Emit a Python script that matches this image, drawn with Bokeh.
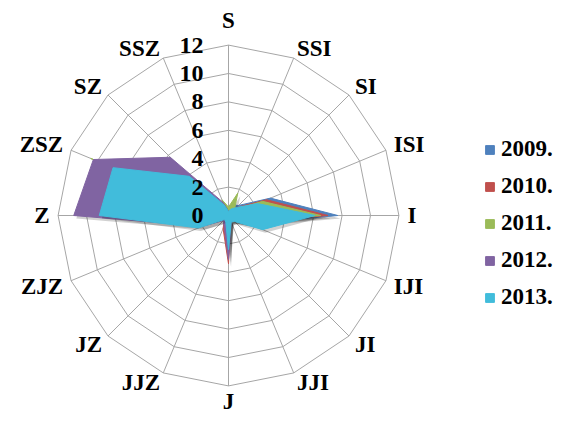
import numpy as np
from bokeh.plotting import figure
from bokeh.models import Legend, LegendItem, Range1d
from bokeh.core.properties import value
from bokeh.embed import file_html
from bokeh.resources import INLINE

directions = ["S", "SSI", "SI", "ISI", "I", "IJI", "JI", "JJI",
              "J", "JJZ", "JZ", "ZJZ", "Z", "ZSZ", "SZ", "SSZ"]
years = ["2009.", "2010.", "2011.", "2012.", "2013."]
s2009 = [0.3, 0.8, 1.0, 3.2, 7.7, 1.5, 0.5, 0.4, 2.8, 0.8, 0.3, 0.5, 1.0, 0.5, 0.3, 0.3]
s2010 = [0.3, 0.5, 0.8, 2.9, 7.0, 1.3, 0.5, 0.4, 3.4, 1.0, 0.4, 0.5, 1.0, 0.5, 0.3, 0.3]
s2011 = [0.6, 1.7, 0.6, 2.6, 6.5, 1.3, 0.4, 0.4, 2.0, 0.6, 0.3, 0.5, 1.0, 10.5, 0.5, 1.2]
s2012 = [0.3, 0.3, 0.5, 1.5, 4.0, 1.0, 0.5, 0.5, 3.1, 0.8, 0.5, 2.0, 10.9, 10.3, 5.8, 1.0]
s2013 = [0.3, 0.5, 0.8, 2.2, 6.1, 2.6, 0.6, 0.5, 2.4, 0.5, 0.4, 2.3, 9.1, 8.8, 3.9, 0.8]
ticks = [0, 2, 4, 6, 8, 10, 12]
colors = ["#4F81BD", "#C0504D", "#9BBB59", "#8064A2", "#41BCDB"]

series = [s2009, s2010, s2011, s2012, s2013]
rmax = 12
W, H = 557, 414
px = 14.2           # pixels per unit
cx, cy = 228, 215   # center in figure pixels

p = figure(width=W, height=H, output_backend="svg", toolbar_location=None,
           x_range=Range1d(-cx / px, (W - cx) / px),
           y_range=Range1d(-(H - cy) / px, cy / px),
           min_border=0, outline_line_color=None)
p.axis.visible = False
p.grid.visible = False
p.background_fill_color = "white"

n = len(directions)
theta = np.pi / 2 - np.arange(n) * 2 * np.pi / n
cs, sn = np.cos(theta), np.sin(theta)

grid_col = "#A6A6A6"
for t in ticks[1:]:
    p.patch(list(t * cs) + [t * cs[0]], list(t * sn) + [t * sn[0]],
            fill_alpha=0, line_color=grid_col, line_width=1)
for k in range(n):
    p.line([0, rmax * cs[k]], [0, rmax * sn[k]], line_color=grid_col, line_width=1)

renderers = []
for vals, col in zip(series, colors):
    v = np.array(vals)
    xs, ys = v * cs, v * sn
    p.patch(list(xs + 0.18), list(ys - 0.22), fill_color="black", fill_alpha=0.18,
            line_color=None)
    r = p.patch(list(xs), list(ys), fill_color=col, fill_alpha=1.0,
                line_color=col, line_width=1)
    renderers.append(r)

fname = "Liberation Serif"
font = value(fname)
# direction labels
for k, name in enumerate(directions):
    c, s = cs[k], sn[k]
    if abs(c) < 0.1:
        align = "center"
    elif c > 0:
        align = "left"
    else:
        align = "right"
    if k == 0:
        base, rr = "bottom", rmax + 0.7
    elif k == 8:
        base, rr = "top", rmax + 0.1
    else:
        base, rr = "middle", rmax + 0.6
    p.text([rr * c], [rr * s + (0.15 if s > 0.1 else (-0.15 if s < -0.1 else 0))],
           text=[name], text_font=font, text_font_size="23px",
           text_font_style="bold", text_align=align, text_baseline=base,
           text_color="black")

# radial tick labels
p.text([-25 / px] * len(ticks), ticks, text=[str(t) for t in ticks],
       text_font=font, text_font_size="24px", text_font_style="bold",
       text_align="right", text_baseline="middle", text_color="black")

legend = Legend(items=[LegendItem(label=y, renderers=[r]) for y, r in zip(years, renderers)],
                location=(484, 104), orientation="vertical",
                label_text_font=fname, label_text_font_size="23px",
                label_text_font_style="bold", label_text_color="black",
                glyph_width=11, glyph_height=11, label_standoff=6, spacing=11,
                background_fill_alpha=0, border_line_color=None, padding=0, margin=0,
                label_height=24)
p.add_layout(legend)

open("out.html", "w").write(file_html(p, INLINE))
